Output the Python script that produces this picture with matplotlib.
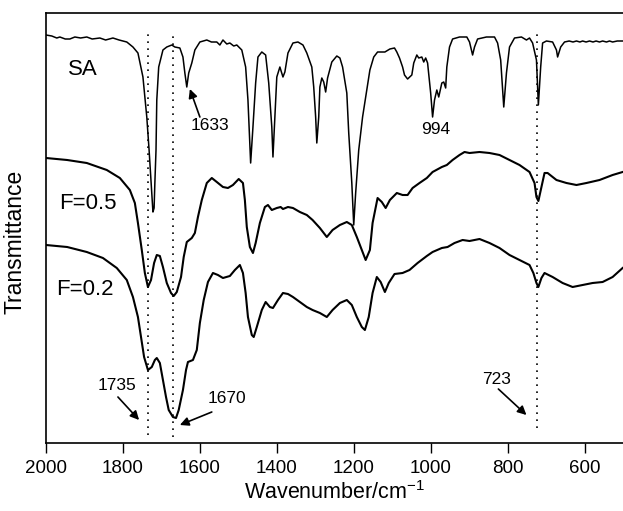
import matplotlib
matplotlib.use('Agg')
import matplotlib.pyplot as plt

plt.rcParams['font.family'] = ['Liberation Sans', 'DejaVu Sans']
plt.rcParams['mathtext.default'] = 'regular'

# SA spectrum (wavenumber, transmittance in arbitrary units)
sa_wn = [2000, 1985, 1972, 1964, 1950, 1938, 1925, 1910, 1894, 1880, 1860, 1845,
         1826, 1810, 1790, 1774, 1761, 1748, 1738, 1732,
         1722, 1719, 1717, 1714, 1712, 1707, 1696, 1686, 1673, 1665, 1652, 1644,
         1639, 1634, 1629, 1621, 1613, 1600, 1582, 1570, 1556, 1548, 1540, 1530,
         1522, 1512, 1504, 1491,
         1481, 1475, 1468, 1462, 1455, 1449, 1439, 1429, 1421, 1413, 1410, 1405,
         1400, 1392, 1384, 1379, 1371, 1358, 1345, 1332, 1322, 1309, 1304, 1299,
         1296, 1291, 1288, 1283, 1278, 1273, 1268, 1257, 1244, 1236, 1229, 1218,
         1213, 1205, 1200, 1195, 1187, 1177, 1166, 1158, 1148, 1138, 1119, 1106,
         1094, 1088, 1081, 1073, 1068, 1060, 1049, 1044, 1036, 1031, 1023, 1018,
         1013, 1008, 1000, 995, 990, 984, 979, 971, 966, 961, 958, 951, 943, 925,
         906, 899, 891, 886, 878, 855, 834, 826, 818, 810, 803, 795, 782, 764,
         751, 743, 735, 725, 720, 714, 709, 699, 683, 673, 670, 662, 652, 640,
         630, 621, 612, 605, 596, 587, 578, 570, 561, 553, 543, 535, 527, 515, 501]
sa_t = [408, 407, 405, 406, 404, 404, 406, 405, 406, 404, 405, 403,
        405, 403, 401, 396, 390, 366, 326, 293,
        231, 235, 260, 293, 343, 376, 393, 396, 398, 396, 395, 386,
        370, 356, 370, 380, 393, 401, 403, 401, 401, 398, 403, 399,
        400, 397, 398, 393,
        376, 343, 280, 316, 360, 386, 391, 388, 360, 316, 286, 326,
        366, 376, 366, 371, 390, 400, 401, 398, 390, 376, 356, 326,
        300, 326, 356, 365, 361, 351, 365, 381, 387, 385, 376, 350,
        310, 260, 218, 250, 293, 326, 353, 373, 386, 391, 391, 394,
        395, 391, 385, 376, 368, 364, 368, 380, 388, 385, 386, 381,
        385, 380, 350, 326, 343, 353, 346, 360, 361, 355, 376, 396, 404, 406,
        406, 401, 388, 396, 404, 406, 406, 400, 383, 336, 370, 396, 405, 406,
        403, 405, 400, 383, 338, 376, 400, 402, 401, 393, 386, 396, 401, 402,
        401, 402, 401, 402, 401, 402, 401, 402, 401, 402, 401, 402, 401, 402, 402]

# F=0.5 spectrum
f5_wn = [2000, 1945, 1894, 1842, 1808, 1782, 1769, 1761, 1751, 1743, 1735, 1727,
         1719, 1712, 1704, 1696, 1686, 1675, 1668, 1660, 1649, 1642, 1634, 1621,
         1613, 1605, 1595, 1582, 1569, 1556, 1540, 1527, 1514, 1499, 1488, 1483,
         1478, 1470, 1462, 1455, 1444, 1431, 1423, 1413, 1400, 1390, 1384, 1371,
         1358, 1340, 1322, 1307, 1288, 1270, 1255, 1236, 1218, 1205, 1192, 1179,
         1169, 1158, 1151, 1138, 1127, 1117, 1106, 1088, 1073, 1060, 1047, 1029,
         1010, 995, 971, 958, 943, 925, 912, 899, 873, 847, 821, 795, 769, 743,
         730, 725, 720, 712, 704, 696, 673, 647, 621, 595, 561, 527, 501]
f5_t = [285, 283, 280, 273, 265, 253, 240, 220, 193, 170, 156, 163,
        180, 188, 187, 176, 160, 150, 147, 151, 166, 186, 201, 205,
        210, 226, 243, 260, 265, 261, 256, 255, 258, 264, 260, 243,
        216, 196, 190, 200, 220, 236, 238, 233, 235, 236, 234, 236,
        235, 231, 228, 223, 215, 206, 213, 218, 221, 218, 206, 193,
        183, 193, 220, 245, 241, 235, 243, 250, 248, 248, 255, 260,
        265, 271, 276, 278, 283, 288, 291, 290, 291, 290, 288, 283, 278, 271,
        260, 246, 242, 256, 270, 270, 263, 260, 258, 260, 263, 268, 271]

# F=0.2 spectrum
f2_wn = [2000, 1945, 1894, 1852, 1816, 1790, 1774, 1761, 1753, 1745, 1735, 1725,
         1717, 1712, 1704, 1696, 1688, 1681, 1670, 1662, 1655, 1644, 1636, 1631,
         1618, 1608, 1600, 1590, 1579, 1566, 1553, 1540, 1522, 1509, 1496, 1488,
         1481, 1475, 1465, 1460, 1452, 1439, 1429, 1418, 1410, 1397, 1384, 1371,
         1358, 1340, 1322, 1307, 1288, 1270, 1255, 1236, 1218, 1205, 1192, 1179,
         1171, 1161, 1151, 1140, 1130, 1119, 1109, 1094, 1073, 1055, 1034, 1010,
         995, 971, 956, 938, 917, 899, 873, 847, 821, 795, 769, 743, 733, 725,
         720, 712, 704, 683, 657, 631, 605, 579, 553, 527, 501]
f2_t = [198, 196, 191, 185, 175, 163, 146, 126, 106, 86, 73, 76,
        83, 85, 80, 63, 46, 33, 26, 25, 33, 53, 73, 81,
        83, 93, 120, 143, 161, 170, 168, 165, 167, 173, 178, 170,
        150, 126, 108, 106, 116, 133, 141, 136, 135, 143, 150, 149,
        146, 141, 136, 133, 130, 126, 133, 140, 143, 138, 126, 116,
        113, 126, 150, 166, 161, 151, 160, 169, 170, 173, 180, 187,
        191, 195, 196, 200, 203, 202, 204, 200, 195, 188, 183, 178, 170, 160,
        156, 165, 170, 166, 160, 156, 158, 160, 161, 166, 175]

# dotted marker lines: position, bottom, top
mark_wn = [1735, 1670, 723]
mark_lo = [8, 6, 15]
mark_hi = [410, 408, 414]

# curve labels
curve_names = ['SA', 'F=0.5', 'F=0.2']
name_wn = [1904, 1891, 1899]
name_t = [374, 239.5, 153.5]

# peak labels: text, text position, arrow tail, arrow tip (None = no arrow)
peak_text = ['1633', '994', '1735', '1670', '723']
peak_pos = [(1574, 317.5), (986, 314), (1816, 58), (1530, 44.5), (829, 63.5)]
peak_tail = [(1600, 326), None, (1813, 46), (1569, 31), (824, 54)]
peak_tip = [(1626, 354), None, (1758, 23), (1652, 18), (751, 28)]

fig = plt.figure(figsize=(6.23, 5.11), dpi=100)
ax = fig.add_axes([46 / 623, 68 / 511, 577 / 623, 430 / 511])

ax.plot(sa_wn, sa_t, color='black', linewidth=1.1)
ax.plot(f5_wn, f5_t, color='black', linewidth=1.5)
ax.plot(f2_wn, f2_t, color='black', linewidth=1.5)

for w, lo, hi in zip(mark_wn, mark_lo, mark_hi):
    ax.plot([w, w], [lo, hi], color='black', linewidth=1.2, linestyle=(0, (1, 3.2)))

for name, w, t in zip(curve_names, name_wn, name_t):
    ax.text(w, t, name, fontsize=16, ha='center', va='center')

for txt, pos, tail, tip in zip(peak_text, peak_pos, peak_tail, peak_tip):
    ax.text(pos[0], pos[1], txt, fontsize=12.5, ha='center', va='center')
    if tip is not None:
        ax.annotate('', xy=tip, xytext=tail,
                    arrowprops=dict(arrowstyle='-|>', color='black', lw=1.2,
                                    mutation_scale=13, shrinkA=0, shrinkB=0))

ax.set_xlim(2000, 500)
ax.set_ylim(0, 430)
ax.set_xticks([2000, 1800, 1600, 1400, 1200, 1000, 800, 600])
ax.set_yticks([])
ax.tick_params(axis='x', direction='out', length=7, width=1, labelsize=13.5, pad=5)
ax.spines['right'].set_visible(False)
for s in ['left', 'bottom', 'top']:
    ax.spines[s].set_linewidth(1.2)

ax.set_xlabel('Wavenumber/cm$^{\\mathregular{-1}}$', fontsize=15.5, labelpad=3)
ax.set_ylabel('Transmittance', fontsize=16.5)
ax.yaxis.set_label_coords(-0.033, 0.467)

plt.savefig('out.png', dpi=100)
